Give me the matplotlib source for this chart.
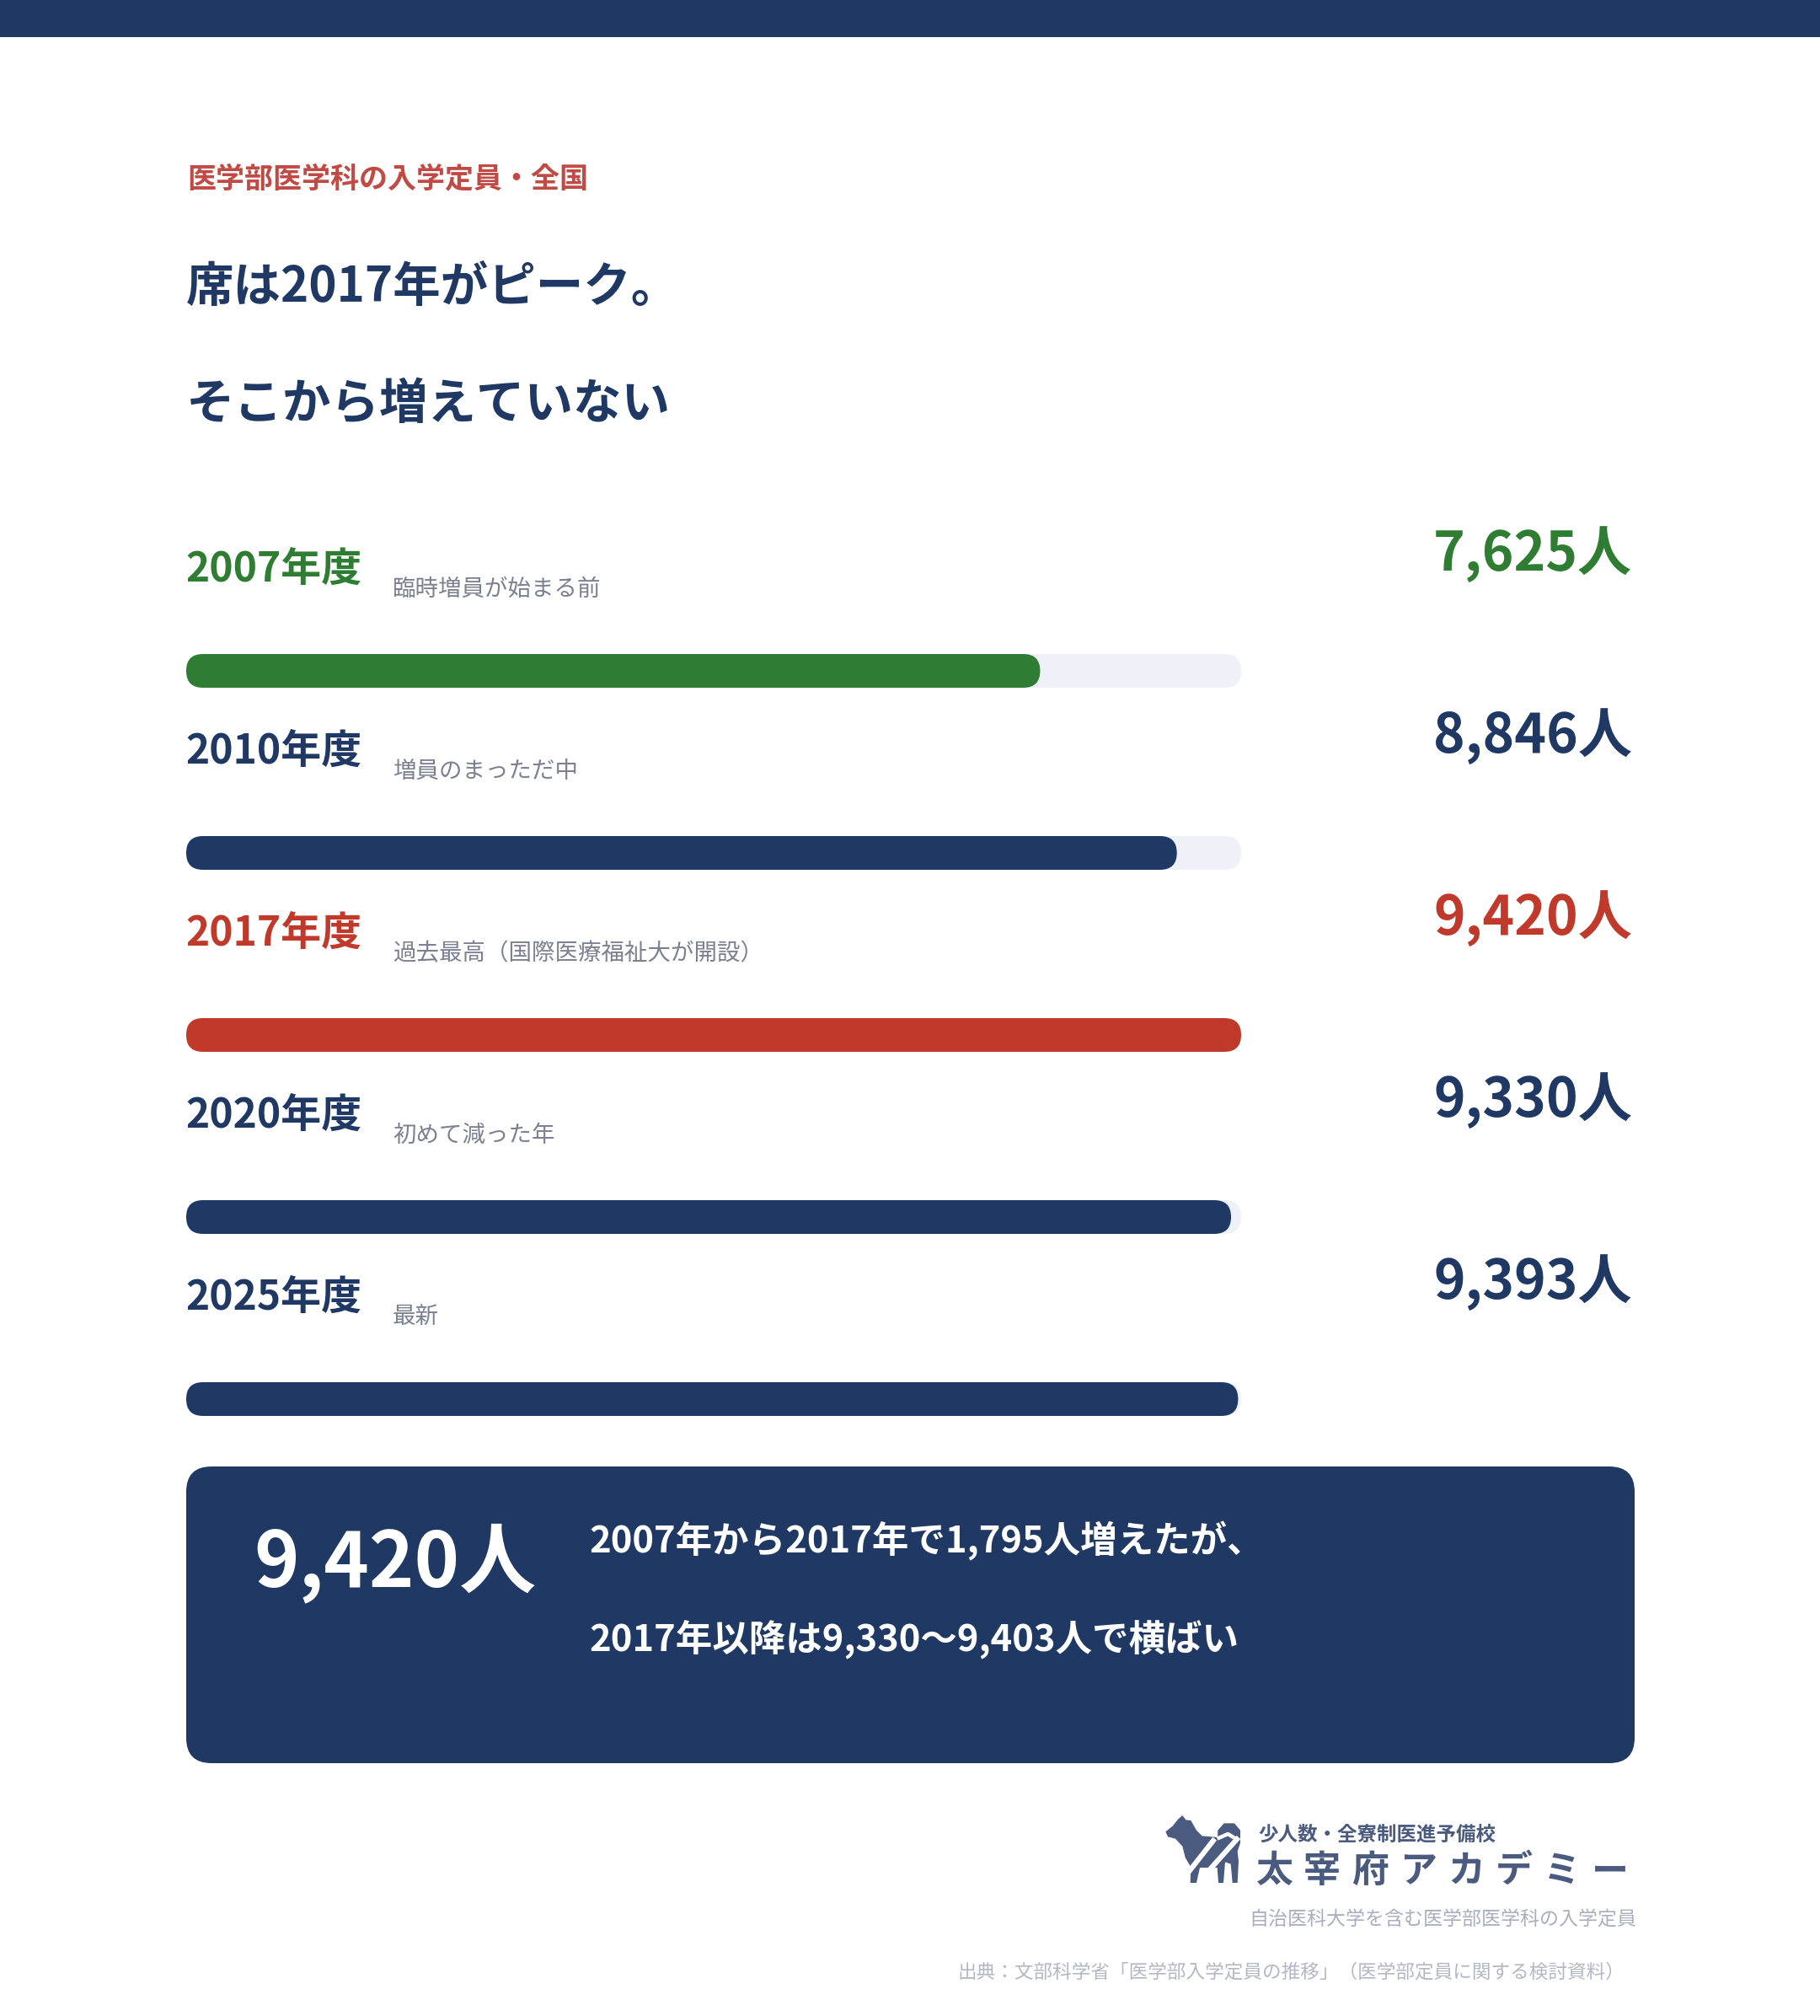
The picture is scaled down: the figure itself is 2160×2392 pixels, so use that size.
import matplotlib
matplotlib.use("Agg")
import matplotlib.pyplot as plt
from matplotlib.patches import FancyBboxPatch, Rectangle, Polygon

plt.rcParams['font.family'] = ['Noto Sans CJK JP', 'DejaVu Sans']

# data
years = ['2007年度', '2010年度', '2017年度', '2020年度', '2025年度']
notes = ['臨時増員が始まる前', '増員のまっただ中', '過去最高（国際医療福祉大が開設）',
         '初めて減った年', '最新']
values = [7625, 8846, 9420, 9330, 9393]
row_colors = ['#2e7d32', '#203864', '#c0392b', '#203864', '#203864']

kicker = '医学部医学科の入学定員・全国'
title_lines = ['席は2017年がピーク。', 'そこから増えていない']
summary_lines = ['2007年から2017年で1,795人増えたが、', '2017年以降は9,330〜9,403人で横ばい']
logo_sub = '少人数・全寮制医進予備校'
logo_name = '太宰府アカデミー'
footnote = '自治医科大学を含む医学部医学科の入学定員'
source = '出典：文部科学省「医学部入学定員の推移」（医学部定員に関する検討資料）'

NAVY = '#203864'
TRACK = '#eef1f8'
GRAY = '#7b8191'

W, H = 2160, 2392
DPI = 200
PT = DPI / 72.0  # px per point

fig = plt.figure(figsize=(W / DPI, H / DPI), dpi=DPI)
fig.patch.set_facecolor('white')
ax = fig.add_axes([0, 0, 1, 1])
ax.set_xlim(0, W)
ax.set_ylim(H, 0)
ax.axis('off')


def fs(px):
    return px / PT


# top band
ax.add_patch(Rectangle((0, 0), W, 44, color=NAVY, lw=0))

# header
ax.text(222, 222, kicker, color='#c24a45', fontsize=fs(34), fontweight='bold', va='baseline')
ax.text(221, 358, title_lines[0], color=NAVY, fontsize=fs(56.5), fontweight='bold', va='baseline')
ax.text(221, 497, title_lines[1], color=NAVY, fontsize=fs(57.5), fontweight='bold', va='baseline')

# bar area: x in data values, y in pixels
track_left, track_w = 221, 1252
max_val = max(values)
bx = fig.add_axes([track_left / W, 0, track_w / W, 1])
bx.set_xlim(0, max_val)
bx.set_ylim(H, 0)
bx.axis('off')
bx.patch.set_alpha(0)

bar_h = 40
rx = (bar_h / 2) * max_val / track_w
aspect = (bar_h / 2) / rx
row_gap = 216

for i, (yr, note, v, c) in enumerate(zip(years, notes, values, row_colors)):
    off = i * row_gap
    ax.text(220, 690 + off, yr, color=c, fontsize=fs(48), fontweight='bold', va='baseline')
    ax.text(466, 707 + off, note, color=GRAY, fontsize=fs(27.5), va='baseline')
    ax.text(1937, 677 + off, f'{v:,}人', color=c, fontsize=fs(64), fontweight='bold',
            va='baseline', ha='right')
    yc = 796 + off
    for width, col in ((max_val, TRACK), (v, c)):
        bx.add_patch(FancyBboxPatch((0, yc - bar_h / 2), width, bar_h,
                                    boxstyle=f'round,pad=0,rounding_size={rx}',
                                    mutation_aspect=aspect, fc=col, ec='none',
                                    clip_on=False))

# summary box
ax.add_patch(FancyBboxPatch((221, 1740), 1719, 352, boxstyle='round,pad=0,rounding_size=30',
                            fc=NAVY, ec='none'))
ax.text(301, 1882, f'{max_val:,}人', color='white', fontsize=fs(91), fontweight='bold',
        va='baseline')
ax.text(699, 1842, summary_lines[0], color='white', fontsize=fs(43.5), fontweight='bold',
        va='baseline')
ax.text(699, 1958, summary_lines[1], color='white', fontsize=fs(43.5), fontweight='bold',
        va='baseline')

# logo
LOGO = '#4b5b80'
dog = [(40, 100), (65, 80), (85, 55), (100, 42), (112, 58), (130, 60), (150, 95), (170, 115),
       (225, 120), (226, 95), (248, 70), (285, 70), (306, 95), (306, 140), (296, 170),
       (300, 205), (296, 282), (278, 282), (272, 215), (252, 208), (246, 282), (228, 282),
       (224, 228), (162, 228), (150, 282), (128, 282), (130, 226), (110, 192), (100, 152),
       (75, 125), (48, 118)]
dog = [(1370 + x / 3, 2140 + y / 3) for x, y in dog]
ax.add_patch(Polygon(dog, closed=True, fc=LOGO, ec='none'))
for (x0, y0), (x1, y1) in (((105, 265), (215, 125)), ((170, 265), (300, 120))):
    ax.plot([1370 + x0 / 3, 1370 + x1 / 3], [2140 + y0 / 3, 2140 + y1 / 3],
            color='white', lw=2.2, solid_capstyle='butt')
ax.plot([1370 + 230 / 3, 1370 + 262 / 3, 1370 + 290 / 3],
        [2140 + 122 / 3, 2140 + 108 / 3, 2140 + 125 / 3], color='white', lw=1.6)

ax.text(1493, 2184, logo_sub, color=LOGO, fontsize=fs(23.5), fontweight='bold', va='baseline')
for k, ch in enumerate(logo_name):
    ax.text(1490 + k * 57, 2233, ch, color=LOGO, fontsize=fs(44), fontweight='bold',
            va='baseline')

# footer
ax.text(1942, 2284, footnote, color='#a9afbf', fontsize=fs(23), va='baseline', ha='right')
ax.text(1928, 2347, source, color='#b3b8c5', fontsize=fs(22.6), va='baseline', ha='right')

fig.savefig('out.png', dpi=DPI, facecolor='white')
